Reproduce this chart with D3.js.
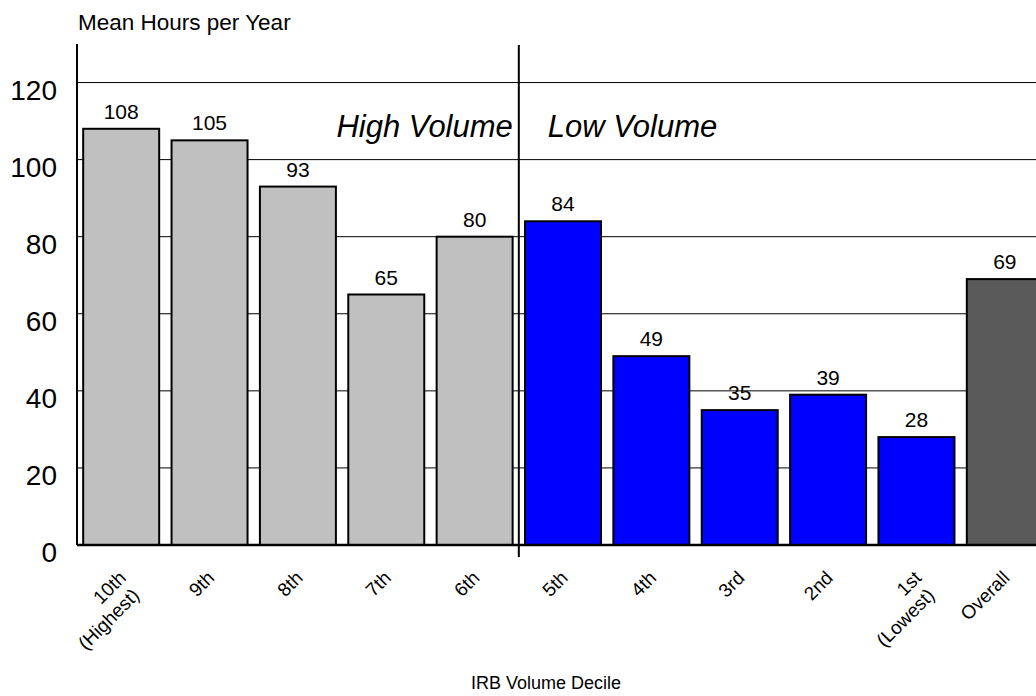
<!DOCTYPE html>
<html>
<head>
<meta charset="utf-8">
<script src="https://cdn.jsdelivr.net/npm/d3@7"></script>
<style>
  html, body { margin: 0; padding: 0; background: #fff; }
  svg { display: block; font-family: "Liberation Sans", Arial, Helvetica, sans-serif; }
</style>
</head>
<body>
<svg id="chart" width="1036" height="696"></svg>
<script>
// ---- Data ----
const categories = ["10th|(Highest)", "9th", "8th", "7th", "6th", "5th", "4th", "3rd", "2nd", "1st|(Lowest)", "Overall"];
const values = [108, 105, 93, 65, 80, 84, 49, 35, 39, 28, 69];
const groups = ["high", "high", "high", "high", "high", "low", "low", "low", "low", "low", "overall"];
const yTicks = [0, 20, 40, 60, 80, 100, 120];
const yTitle = "Mean Hours per Year";
const xTitle = "IRB Volume Decile";
const regionLabels = ["High Volume", "Low Volume"];

const colors = { high: "#c0c0c0", low: "#0000ff", overall: "#5a5a5a" };

const svg = d3.select("#chart");
const W = 1036, H = 696;
const x0 = 77, yBase = 545, yTop = 44;

const y = d3.scaleLinear().domain([0, 130]).range([yBase, yTop]);
const x = d3.scaleBand().domain(categories).range([x0, 1049]).paddingInner(0.14).paddingOuter(0.07);

// gridlines
svg.append("g").selectAll("line").data(yTicks.filter(d => d > 0)).join("line")
  .attr("x1", x0).attr("x2", W)
  .attr("y1", d => y(d)).attr("y2", d => y(d))
  .attr("stroke", "#000").attr("stroke-width", 1);

// bars
svg.append("g").selectAll("rect").data(values).join("rect")
  .attr("x", (d, i) => x(categories[i]))
  .attr("y", d => y(d))
  .attr("width", x.bandwidth())
  .attr("height", d => yBase - y(d))
  .attr("fill", (d, i) => colors[groups[i]])
  .attr("stroke", "#000").attr("stroke-width", 2);

// value labels
svg.append("g").selectAll("text").data(values).join("text")
  .attr("x", (d, i) => x(categories[i]) + x.bandwidth() / 2)
  .attr("y", d => y(d) - 10)
  .attr("text-anchor", "middle")
  .attr("font-size", 21)
  .text(d => d);

// y axis
const yAxis = d3.axisLeft(y).tickValues(yTicks).tickSize(0).tickPadding(20);
const gy = svg.append("g").attr("transform", `translate(${x0},0)`).call(yAxis);
gy.select(".domain").remove();
gy.selectAll("text").attr("font-size", 28).attr("font-family", "Liberation Sans, Arial, sans-serif")
  .attr("fill", "#000").attr("dy", "0.6em");
svg.append("line").attr("x1", x0).attr("x2", x0).attr("y1", yTop).attr("y2", yBase)
  .attr("stroke", "#000").attr("stroke-width", 2);

// baseline
svg.append("line").attr("x1", x0).attr("x2", W).attr("y1", yBase).attr("y2", yBase)
  .attr("stroke", "#000").attr("stroke-width", 2.5);

// divider
const divX = (x(categories[4]) + x.bandwidth() + x(categories[5])) / 2;
svg.append("line").attr("x1", divX).attr("x2", divX).attr("y1", 45).attr("y2", 557)
  .attr("stroke", "#000").attr("stroke-width", 2);

// region labels
svg.append("text").attr("x", divX - 6).attr("y", 137).attr("text-anchor", "end")
  .attr("font-size", 31).attr("font-style", "italic").text(regionLabels[0]);
svg.append("text").attr("x", divX + 29).attr("y", 137).attr("text-anchor", "start")
  .attr("font-size", 31).attr("font-style", "italic").text(regionLabels[1]);

// x tick labels (rotated)
const xl = svg.append("g").selectAll("text").data(categories).join("text")
  .attr("transform", d => `translate(${x(d) + x.bandwidth() / 2 + 6},579) rotate(-45)`)
  .attr("text-anchor", "end")
  .attr("font-size", 19);
xl.each(function(d) {
  const parts = d.split("|");
  const t = d3.select(this);
  parts.forEach((p, i) => {
    t.append("tspan").attr("x", i === 0 ? 0 : -3).attr("dy", i === 0 ? 0 : "1.15em").text(p);
  });
});

// titles
svg.append("text").attr("x", 78).attr("y", 30).attr("font-size", 22.5).text(yTitle);
svg.append("text").attr("x", 546).attr("y", 689).attr("text-anchor", "middle")
  .attr("font-size", 18).text(xTitle);
</script>
</body>
</html>
